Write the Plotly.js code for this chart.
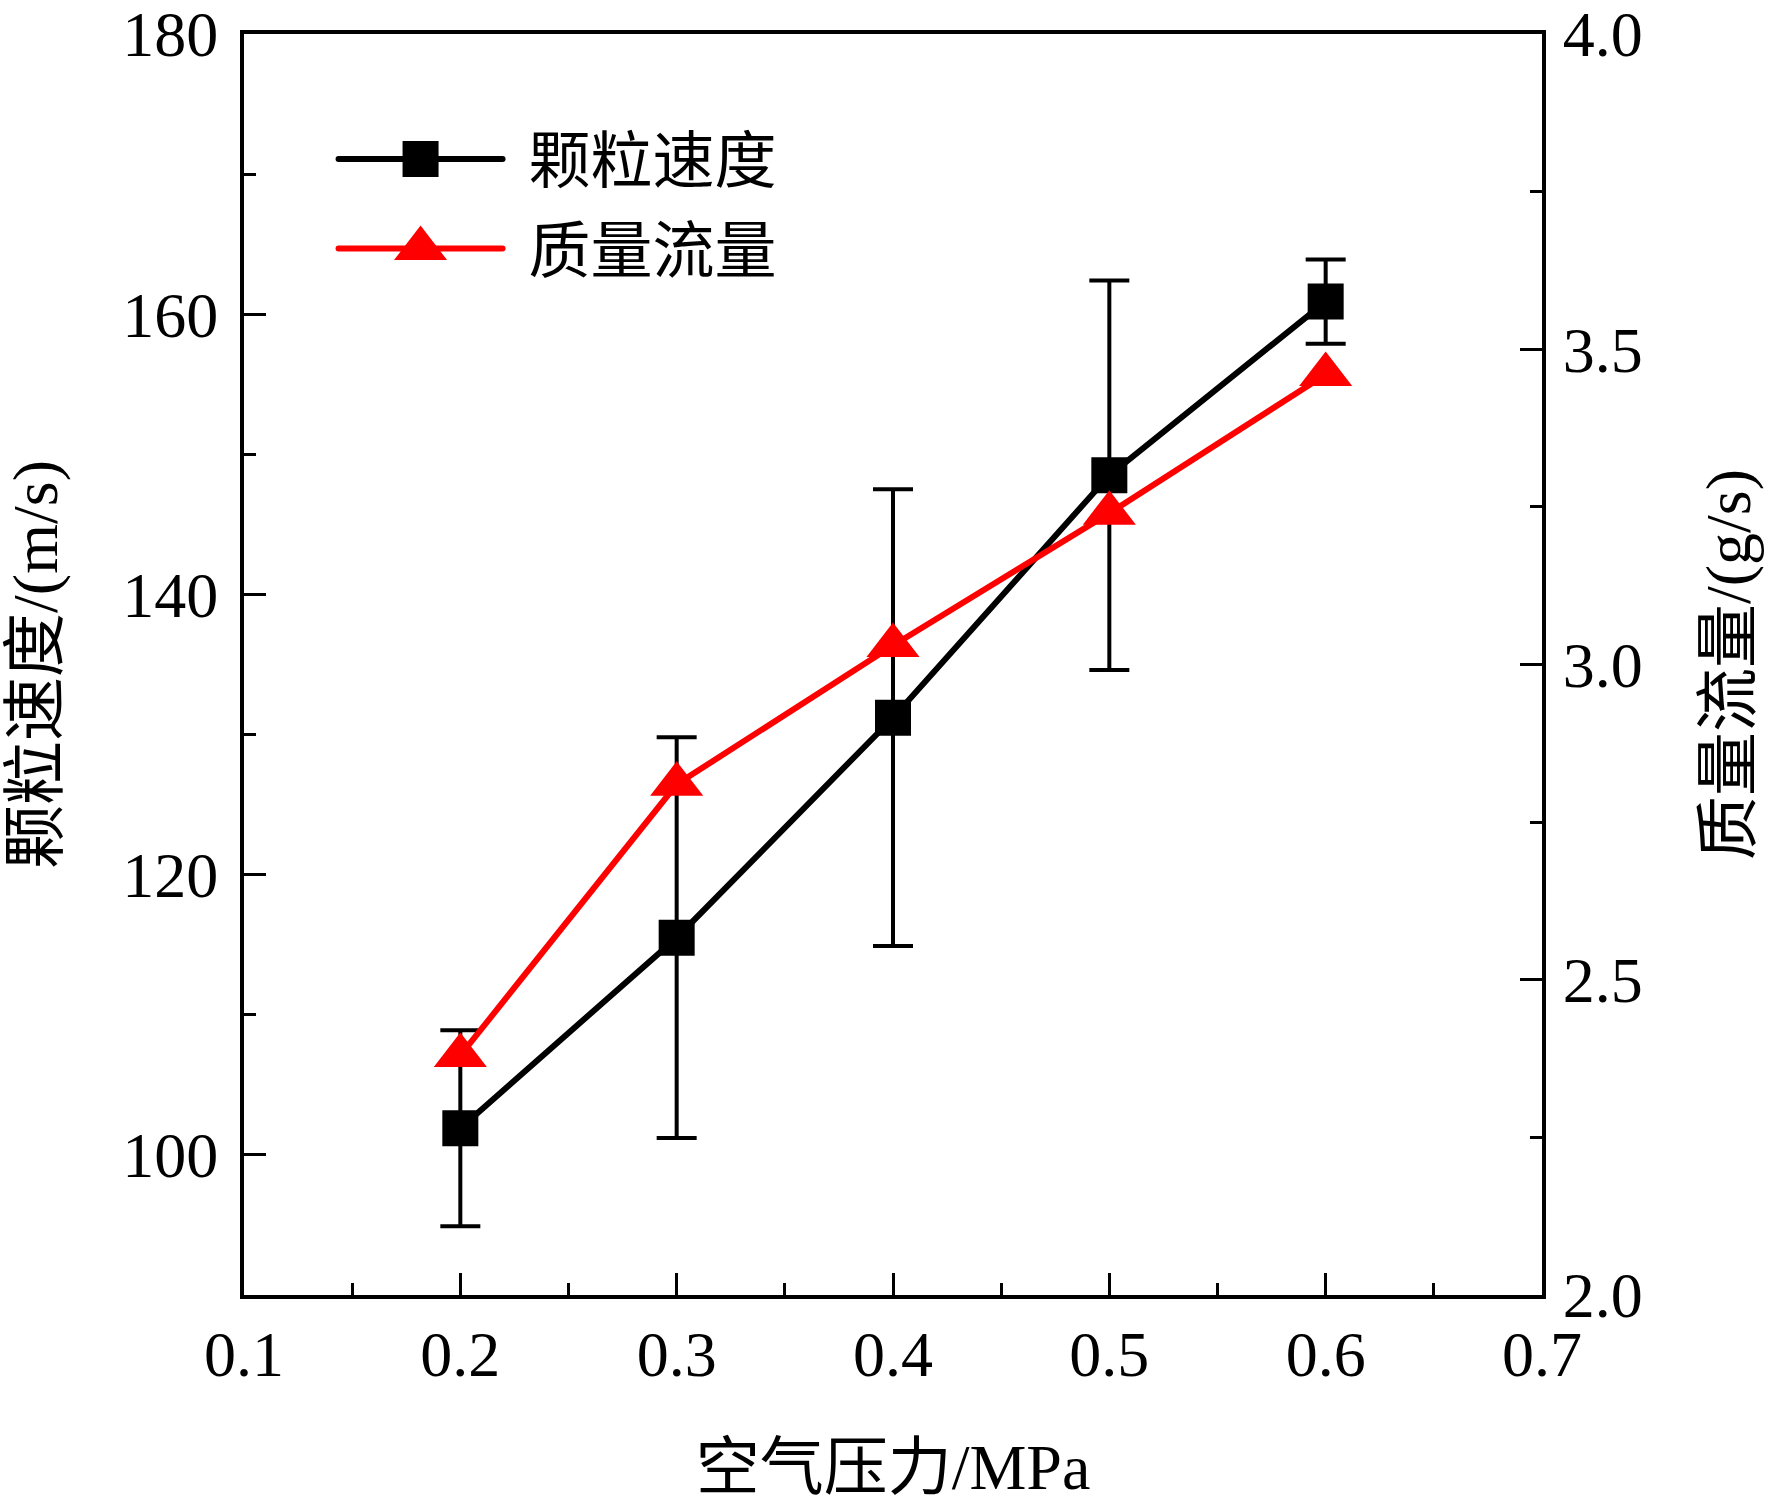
<!DOCTYPE html>
<html>
<head>
<meta charset="utf-8">
<script src="https://cdn.plot.ly/plotly-3.0.1.min.js"></script>
<style>html,body{margin:0;padding:0;background:#fff;}#chart{width:1772px;height:1503px;}</style>
</head>
<body>
<div id="chart"></div>
<script>
// Data
const pressure = [0.2, 0.3, 0.4, 0.5, 0.6];            // 空气压力 / MPa
const velocity = [101.9, 115.5, 131.2, 148.5, 160.9];   // 颗粒速度 / (m/s)
const velocityErr = [7.0, 14.3, 16.3, 13.9, 3.0];       // error bar half-lengths
const massFlow = [2.38, 2.81, 3.03, 3.24, 3.46];        // 质量流量 / (g/s)

const seriesNames = ['颗粒速度', '质量流量'];
const xTitle = '空气压力/MPa';
const yTitle = '颗粒速度/(m/s)';
const y2Title = '质量流量/(g/s)';

const FONT = 'Liberation Serif, "Times New Roman", "Noto Sans CJK SC", serif';

const traces = [
  {
    x: pressure, y: velocity, name: seriesNames[0], legendgroup: 'a',
    type: 'scatter', mode: 'lines+markers',
    line: {color: '#000000', width: 6},
    marker: {symbol: 'square', size: 36, color: '#000000'},
    error_y: {type: 'data', array: velocityErr, visible: true, color: '#000000', thickness: 4, width: 20},
    xaxis: 'x', yaxis: 'y'
  },
  {
    x: pressure, y: massFlow, name: seriesNames[1], legendgroup: 'b',
    type: 'scatter', mode: 'lines+markers',
    line: {color: '#ff0000', width: 6},
    marker: {symbol: 'triangle-up', size: 46, color: '#ff0000'},
    xaxis: 'x', yaxis: 'y2'
  }
];

const layout = {
  width: 1772, height: 1503,
  margin: {l: 244, r: 230, t: 34, b: 208, pad: 0},
  paper_bgcolor: '#ffffff', plot_bgcolor: '#ffffff',
  font: {family: FONT, color: '#000000', size: 64},
  showlegend: true,
  legend: {
    x: 0.069, y: 0.938, xanchor: 'left', yanchor: 'top',
    bgcolor: 'rgba(0,0,0,0)', borderwidth: 0,
    font: {family: FONT, size: 62, color: '#000000'},
    itemsizing: 'trace', itemwidth: 185, tracegroupgap: 6
  },
  xaxis: {
    range: [0.1, 0.7], dtick: 0.1, tick0: 0.1, tickformat: '.1f',
    showgrid: false, zeroline: false,
    showline: true, linecolor: '#000000', linewidth: 4, mirror: true,
    ticks: 'inside', ticklen: 22, tickwidth: 3, tickcolor: '#000000',
    minor: {ticks: 'inside', ticklen: 12, tickwidth: 3, tickcolor: '#000000', dtick: 0.05, showgrid: false},
    ticklabelstandoff: 0, ticklabeloverflow: 'allow',
    tickfont: {family: FONT, size: 64, color: '#000000'},
    title: {text: xTitle, font: {family: FONT, size: 64, color: '#000000'}, standoff: 68}
  },
  yaxis: {
    range: [90, 180], dtick: 20, tick0: 100,
    showgrid: false, zeroline: false,
    showline: true, linecolor: '#000000', linewidth: 4, mirror: false,
    ticks: 'inside', ticklen: 22, tickwidth: 3, tickcolor: '#000000',
    minor: {ticks: 'inside', ticklen: 12, tickwidth: 3, tickcolor: '#000000', dtick: 10, showgrid: false},
    ticklabelstandoff: 9, ticklabeloverflow: 'allow',
    tickfont: {family: FONT, size: 64, color: '#000000'},
    title: {text: yTitle, font: {family: FONT, size: 64, color: '#000000'}, standoff: 51}
  },
  yaxis2: {
    overlaying: 'y', side: 'right',
    range: [2.0, 4.0], dtick: 0.5, tick0: 2.0, tickformat: '.1f',
    showgrid: false, zeroline: false,
    showline: true, linecolor: '#000000', linewidth: 4,
    ticks: 'inside', ticklen: 22, tickwidth: 3, tickcolor: '#000000',
    minor: {ticks: 'inside', ticklen: 12, tickwidth: 3, tickcolor: '#000000', dtick: 0.25, showgrid: false},
    ticklabelstandoff: 4, ticklabeloverflow: 'allow',
    tickfont: {family: FONT, size: 64, color: '#000000'},
    title: {text: y2Title, font: {family: FONT, size: 64, color: '#000000'}, standoff: 64}
  }
};

// Legend symbol sizes (Plotly caps legend symbols; enlarge them to match the reference)
const legendLineLen = 164;
const legendMarkerScale = [36 / 16, 46 / 16];

Plotly.newPlot('chart', traces, layout, {staticPlot: true, displayModeBar: false}).then(function (gd) {
  const items = gd.querySelectorAll('g.legend g.traces');
  items.forEach(function (item, i) {
    item.querySelectorAll('g.legendlines path').forEach(function (p) {
      p.setAttribute('d', 'M5,0h' + legendLineLen);
      p.style.strokeWidth = '6px';
      p.style.strokeLinecap = 'round';
    });
    item.querySelectorAll('g.legendpoints path.scatterpts').forEach(function (p) {
      const s = legendMarkerScale[i] || 2;
      p.setAttribute('transform', 'translate(' + (5 + legendLineLen / 2) + ',0) scale(' + s + ')');
    });
  });
});
</script>
</body>
</html>
